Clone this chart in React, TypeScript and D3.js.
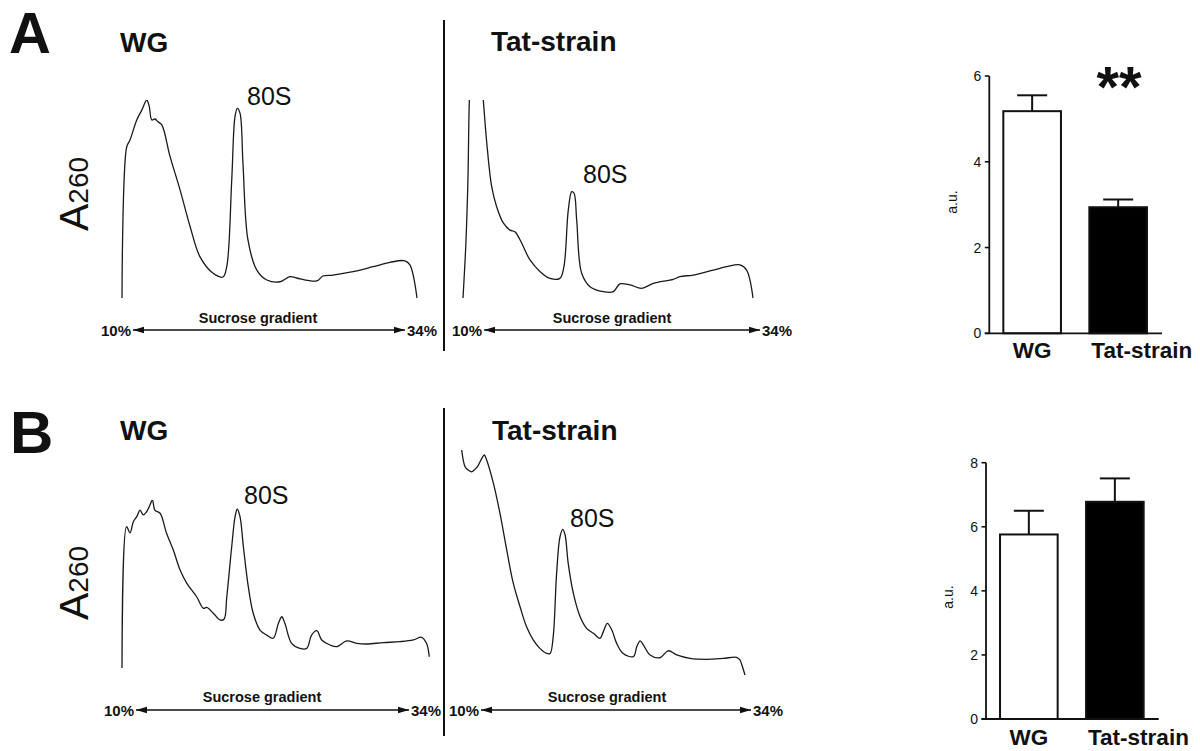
import React from "react";
import * as d3 from "d3";

// ---------- DATA ----------
// Sucrose gradient profiles: [position along gradient (0-100), relative A260 (0-100)]
const profileAWG: [number, number][] = [
  [0, 0], [1.6, 76.4], [2.7, 79.8], [5.0, 89.9], [6.7, 94.9], [8.4, 100], [9.2, 97], [10.1, 89.9],
  [11.2, 90.4], [12.2, 89.0], [13.5, 87.4], [16.3, 71.4], [19.7, 54.5], [23.1, 36.0], [26.4, 20.9],
  [30.8, 12.6], [34.2, 10.6], [35.5, 15.8], [37.2, 59.6], [38.3, 91.6], [39.1, 95.8], [40.0, 93.4],
  [41.0, 68.2], [42.7, 29.3], [45.7, 14.1], [49.1, 9.1], [53.6, 8.2], [56.9, 10.8], [59.2, 10.1],
  [66.0, 8.6], [68.1, 11.1], [71.5, 11.6], [78.3, 13.3], [85.1, 15.8], [90.8, 18.0], [95.9, 18.8],
  [97.6, 16.7], [100, 0],
];
const profileATat: [number, number][] = [
  [0, 0], [1.0, 27.8], [1.7, 59.6], [2.2, 100], [2.8, 115], [4.5, 125], [6.2, 115], [7.0, 100],
  [8.2, 78.3], [9.9, 56.2], [11.6, 46.1], [13.9, 37.9], [16.2, 34.3], [17.9, 33.5], [19.7, 29.3],
  [23.1, 19.2], [26.6, 13.3], [30.0, 9.9], [33.4, 9.9], [34.8, 15.8], [36.3, 44.4], [37.5, 53.7],
  [38.3, 52.9], [39.2, 39.4], [40.9, 12.6], [43.8, 5.7], [48.4, 3.2], [51.8, 3.2], [54.1, 7.1],
  [57.6, 6.6], [61.6, 4.9], [65.6, 7.4], [72.5, 9.4], [74.8, 10.8], [79.4, 11.6], [86.3, 14.1],
  [90.9, 15.8], [95.5, 16.7], [97.8, 14.1], [100, 0],
];
const profileBWG: [number, number][] = [
  [0, 0], [1.5, 84.1], [2.6, 80.4], [3.7, 87.1], [4.8, 90.1], [5.9, 94.0], [6.9, 91.1], [8.0, 93.0],
  [9.1, 97.0], [9.9, 100], [10.7, 94.0], [12.4, 92.1], [14.5, 80.2], [16.7, 70.2], [18.9, 58.3],
  [21.1, 50.4], [24.3, 42.4], [26.5, 35.5], [27.6, 36.1], [29.7, 32.6], [31.9, 28.6], [33.2, 29.0],
  [34.1, 42.4], [35.7, 72.2], [36.8, 90.1], [37.5, 94.5], [38.4, 90.1], [39.5, 72.2], [41.1, 48.4],
  [42.7, 32.6], [44.9, 22.6], [47.1, 19.6], [49.2, 17.7], [50.9, 26.6], [52.0, 30.5], [53.0, 26.6],
  [55.2, 14.7], [57.9, 11.7], [60.1, 11.7], [61.7, 19.6], [63.4, 22.2], [65.0, 16.7], [67.7, 13.7],
  [69.9, 12.7], [73.1, 16.1], [76.4, 14.7], [79.6, 14.3], [85.0, 15.1], [90.5, 15.7], [94.8, 16.7],
  [97.5, 18.3], [99.1, 14.7], [100, 6.7],
];
const profileBTat: [number, number][] = [
  [0, 100], [1.2, 92.3], [2.3, 90.8], [3.5, 90.0], [4.7, 91.1], [5.9, 93.1], [7.1, 96.2], [8.0, 97.7],
  [8.8, 95.4], [11.2, 84.7], [13.5, 71.0], [15.9, 54.1], [18.2, 38.9], [20.6, 28.1], [22.9, 18.9],
  [25.3, 12.8], [27.6, 9.0], [30.0, 6.7], [31.2, 6.7], [32.3, 14.4], [33.5, 43.4], [34.7, 60.2],
  [35.7, 63.6], [36.5, 61.0], [37.6, 48.0], [39.4, 34.3], [41.8, 23.5], [44.1, 18.2], [46.5, 15.9],
  [48.8, 13.6], [50.0, 16.7], [51.4, 20.5], [53.0, 17.4], [54.7, 11.3], [57.0, 6.7], [60.6, 5.2],
  [61.8, 9.8], [63.0, 12.4], [64.1, 10.6], [66.5, 6.0], [70.0, 4.7], [72.9, 7.9], [75.9, 6.0],
  [80.6, 4.4], [86.5, 4.0], [92.3, 4.4], [97.0, 4.9], [98.2, 3.7], [98.9, 1.4], [100, -3.2],
];

const panelLetters = ["A", "B"];
const conditionTitles = ["WG", "Tat-strain"];
const peakLabel = "80S";
const gradientLabel = "Sucrose gradient";
const gradientStart = "10%";
const gradientEnd = "34%";

// Bar charts
const barCategories = ["WG", "Tat-strain"];
const barAValues = [5.18, 2.94];
const barAErrors = [0.37, 0.18];
const barBValues = [5.76, 6.78];
const barBErrors = [0.74, 0.73];
const barATicks = [0, 2, 4, 6];
const barBTicks = [0, 2, 4, 6, 8];
const barYLabel = "a.u.";
const significanceA = "**";

const FONT = "'Liberation Sans', Arial, Helvetica, sans-serif";
const INK = "#111";

type ProfilePanel = {
  id: string;
  data: [number, number][];
  x0: number; x1: number; yBase: number; yTop: number;
  labelX: number; labelY: number;
  arrowY: number; arrowL: number; arrowR: number; textY: number; gradCenter: number;
};

function Profile({ p }: { p: ProfilePanel }) {
  const x = d3.scaleLinear().domain([0, 100]).range([p.x0, p.x1]);
  const y = d3.scaleLinear().domain([0, 100]).range([p.yBase, p.yTop]);
  const line = d3
    .line<[number, number]>()
    .x((d) => x(d[0]))
    .y((d) => y(d[1]))
    .curve(d3.curveCatmullRom.alpha(0.5));
  const clipId = `clip-${p.id}`;
  return (
    <g>
      <defs>
        <clipPath id={clipId}>
          <rect x={p.x0 - 5} y={y(100)} width={p.x1 - p.x0 + 10} height={y(-20) - y(100)} />
        </clipPath>
      </defs>
      <path d={line(p.data) || ""} fill="none" stroke="#1a1a1a" strokeWidth={1.3} strokeLinejoin="round" clipPath={`url(#${clipId})`} />
      <text x={p.labelX} y={p.labelY} fontFamily={FONT} fontSize={25} fill={INK}>{peakLabel}</text>
      <text x={p.gradCenter} y={p.textY} fontFamily={FONT} fontSize={14.5} fontWeight="bold" textAnchor="middle" fill={INK}>{gradientLabel}</text>
      <line x1={p.arrowL + 1} x2={p.arrowR - 1} y1={p.arrowY} y2={p.arrowY} stroke={INK} strokeWidth={1.3} markerStart="url(#arrowL)" markerEnd="url(#arrowR)" />
      <text x={p.arrowL - 1} y={p.arrowY + 6} fontFamily={FONT} fontSize={15} fontWeight="bold" textAnchor="end" fill={INK}>{gradientStart}</text>
      <text x={p.arrowR + 1} y={p.arrowY + 6} fontFamily={FONT} fontSize={15} fontWeight="bold" textAnchor="start" fill={INK}>{gradientEnd}</text>
    </g>
  );
}

type BarPanel = {
  values: number[]; errors: number[]; ticks: number[];
  axisX: number; y0: number; yMax: number; yMaxPx: number; rangeR: number; labelY: number;
  auX: number; auY: number;
};

function Bars({ b }: { b: BarPanel }) {
  const y = d3.scaleLinear().domain([0, b.yMax]).range([b.y0, b.yMaxPx]);
  const x = d3.scaleBand<string>().domain(barCategories).range([b.axisX, b.rangeR]).paddingInner(0.33).paddingOuter(0.163);
  const capW = 30;
  return (
    <g fontFamily={FONT} fill={INK}>
      {barCategories.map((c, i) => {
        const bx = x(c)!;
        const bw = x.bandwidth();
        const cx = bx + bw / 2;
        const top = y(b.values[i]);
        const errTop = y(b.values[i] + b.errors[i]);
        return (
          <g key={c}>
            <line x1={cx} x2={cx} y1={top} y2={errTop} stroke={INK} strokeWidth={2} />
            <line x1={cx - capW / 2} x2={cx + capW / 2} y1={errTop} y2={errTop} stroke={INK} strokeWidth={2} />
            <rect x={bx} y={top} width={bw} height={b.y0 - top} fill={i === 0 ? "#fff" : "#000"} stroke={INK} strokeWidth={2} />
            <text
              x={i === 0 ? cx : bx + 2}
              y={b.labelY}
              fontSize={22.5}
              fontWeight="bold"
              textAnchor={i === 0 ? "middle" : "start"}
            >{c}</text>
          </g>
        );
      })}
      <line x1={b.axisX} x2={b.axisX} y1={b.y0} y2={y(b.yMax)} stroke={INK} strokeWidth={1.8} />
      <line x1={b.axisX - 4.5} x2={b.rangeR + 1} y1={b.y0} y2={b.y0} stroke={INK} strokeWidth={1.8} />
      {b.ticks.map((t) => (
        <g key={t}>
          <line x1={b.axisX - 4.5} x2={b.axisX} y1={y(t)} y2={y(t)} stroke={INK} strokeWidth={1.6} />
          <text x={b.axisX - 8} y={y(t) + 5} fontSize={14} textAnchor="end">{t}</text>
        </g>
      ))}
      <text transform={`translate(${b.auX},${b.auY}) rotate(-90)`} fontSize={14} textAnchor="middle">{barYLabel}</text>
    </g>
  );
}

function A260({ x, y }: { x: number; y: number }) {
  return (
    <text transform={`translate(${x},${y}) rotate(-90)`} fontFamily={FONT} fill={INK}>
      <tspan fontSize={41}>A</tspan>
      <tspan fontSize={28}>260</tspan>
    </text>
  );
}

export default function App() {
  const profiles: ProfilePanel[] = [
    { id: "awg", data: profileAWG, x0: 122, x1: 417, yBase: 298, yTop: 100, labelX: 247, labelY: 105, arrowY: 330, arrowL: 132, arrowR: 406, textY: 323, gradCenter: 258 },
    { id: "atat", data: profileATat, x0: 463, x1: 753, yBase: 298, yTop: 100, labelX: 583, labelY: 183, arrowY: 330, arrowL: 483, arrowR: 761, textY: 323, gradCenter: 612 },
    { id: "bwg", data: profileBWG, x0: 122, x1: 429.3, yBase: 668, yTop: 500, labelX: 244, labelY: 504, arrowY: 710, arrowL: 135, arrowR: 410, textY: 702, gradCenter: 262 },
    { id: "btat", data: profileBTat, x0: 461.7, x1: 745, yBase: 668, yTop: 450, labelX: 570, labelY: 527, arrowY: 710, arrowL: 480, arrowR: 752, textY: 702, gradCenter: 607 },
  ];
  const barA: BarPanel = { values: barAValues, errors: barAErrors, ticks: barATicks, axisX: 989.3, y0: 333.3, yMax: 6, yMaxPx: 76, rangeR: 1161, labelY: 358, auX: 957, auY: 202 };
  const barB: BarPanel = { values: barBValues, errors: barBErrors, ticks: barBTicks, axisX: 986, y0: 719, yMax: 8, yMaxPx: 462.7, rangeR: 1157.7, labelY: 745, auX: 953, auY: 597 };

  return (
    <svg width={1200} height={751} style={{ position: "absolute", left: 0, top: 0, background: "#fff" }}>
      <defs>
        <marker id="arrowR" markerUnits="userSpaceOnUse" markerWidth={12} markerHeight={8} refX={11} refY={4} orient="auto">
          <path d="M0,0.8 L11,4 L0,7.2 Z" fill={INK} />
        </marker>
        <marker id="arrowL" markerUnits="userSpaceOnUse" markerWidth={12} markerHeight={8} refX={1} refY={4} orient="auto">
          <path d="M12,0.8 L1,4 L12,7.2 Z" fill={INK} />
        </marker>
      </defs>
      <rect x={0} y={0} width={1200} height={751} fill="#fff" />

      {/* Panel letters */}
      <text x={9} y={53} fontFamily={FONT} fontSize={58} fontWeight="bold" fill={INK}>{panelLetters[0]}</text>
      <text x={10} y={453} fontFamily={FONT} fontSize={60} fontWeight="bold" fill={INK}>{panelLetters[1]}</text>

      {/* Condition titles */}
      <text x={120} y={52} fontFamily={FONT} fontSize={28} fontWeight="bold" fill={INK}>{conditionTitles[0]}</text>
      <text x={491} y={51} fontFamily={FONT} fontSize={28} fontWeight="bold" fill={INK}>{conditionTitles[1]}</text>
      <text x={120} y={440} fontFamily={FONT} fontSize={28} fontWeight="bold" fill={INK}>{conditionTitles[0]}</text>
      <text x={492} y={440} fontFamily={FONT} fontSize={28} fontWeight="bold" fill={INK}>{conditionTitles[1]}</text>

      {/* Dividers */}
      <line x1={444} x2={444} y1={20} y2={351} stroke={INK} strokeWidth={2} />
      <line x1={444} x2={444} y1={408} y2={736} stroke={INK} strokeWidth={2} />

      <A260 x={88} y={231} />
      <A260 x={88} y={620} />

      {profiles.map((p) => <Profile key={p.id} p={p} />)}

      <Bars b={barA} />
      <Bars b={barB} />
      <text x={1119} y={107} fontFamily={FONT} fontSize={58} fontWeight="bold" textAnchor="middle" fill={INK}>{significanceA}</text>
    </svg>
  );
}
